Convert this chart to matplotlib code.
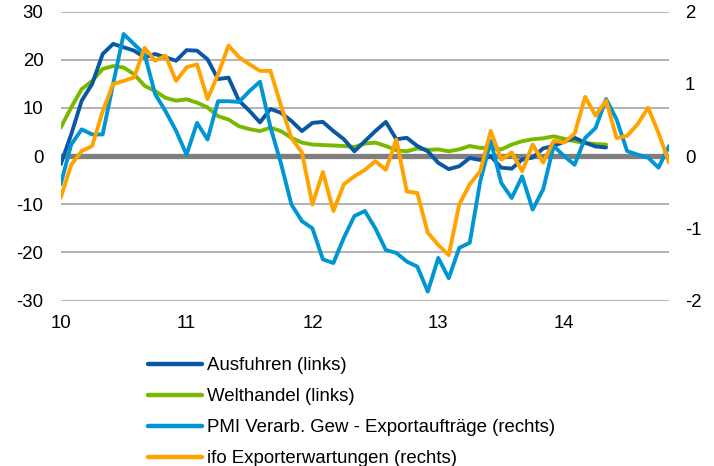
import numpy as np
import matplotlib
matplotlib.use("Agg")
import matplotlib.pyplot as plt

plt.rcParams["font.family"] = ["Liberation Sans", "DejaVu Sans"]
plt.rcParams["axes.unicode_minus"] = False

# monthly values Jan 2010 .. Nov 2014
ausfuhren = [-1.7, 4.5, 11.5, 15.0, 21.2, 23.3, 22.6, 21.9, 20.5, 21.2,
             20.5, 19.8, 22.0, 21.9, 20.1, 16.0, 16.3, 11.5, 9.4, 7.0,
             9.8, 9.0, 7.3, 5.2, 6.9, 7.1, 5.2, 3.5, 1.0, 3.1,
             5.2, 7.1, 3.5, 3.8, 2.1, 1.0, -1.4, -2.7, -2.1, -0.4,
             -0.8, 0.0, -2.4, -2.6, -0.7, -0.3, 1.6, 2.1, 3.0, 3.8,
             2.8, 2.0, 1.8]
welthandel = [5.9, 10.1, 13.9, 15.6, 18.1, 18.7, 18.4, 17.0, 14.6, 13.5,
              12.1, 11.5, 11.8, 11.1, 10.1, 8.3, 7.6, 6.2, 5.6, 5.2,
              5.9, 5.2, 3.8, 2.8, 2.4, 2.3, 2.2, 2.1, 1.9, 2.6,
              2.8, 2.1, 1.2, 1.0, 1.6, 1.3, 1.4, 1.0, 1.4, 2.1,
              1.7, 1.7, 1.4, 2.4, 3.1, 3.5, 3.7, 4.1, 3.6, 3.1,
              2.7, 2.5, 2.4]
pmi = [-0.39, 0.16, 0.37, 0.30, 0.30, 1.0, 1.69, 1.55, 1.41, 0.86,
       0.62, 0.35, 0.02, 0.46, 0.23, 0.76, 0.76, 0.75, 0.90, 1.03,
       0.40, -0.10, -0.67, -0.90, -1.0, -1.43, -1.48, -1.13, -0.83, -0.76,
       -1.0, -1.30, -1.34, -1.46, -1.53, -1.875, -1.41, -1.69, -1.27, -1.20,
       -0.35, 0.21, -0.37, -0.58, -0.28, -0.74, -0.46, 0.14, 0.0, -0.12,
       0.25, 0.39, 0.79, 0.51, 0.07, 0.02, -0.02, -0.16, 0.14]
ifo = [-0.58, -0.12, 0.07, 0.14, 0.62, 1.0, 1.04, 1.09, 1.50, 1.32,
       1.39, 1.04, 1.23, 1.27, 0.79, 1.13, 1.53, 1.37, 1.27, 1.18,
       1.18, 0.70, 0.25, 0.05, -0.67, -0.22, -0.76, -0.39, -0.28, -0.19,
       -0.07, -0.19, 0.23, -0.49, -0.51, -1.06, -1.23, -1.37, -0.67, -0.39,
       -0.21, 0.35, -0.05, 0.05, -0.21, 0.16, -0.09, 0.21, 0.19, 0.31,
       0.82, 0.56, 0.77, 0.25, 0.28, 0.44, 0.67, 0.32, -0.09]

labels = ["Ausfuhren (links)", "Welthandel (links)",
          "PMI Verarb. Gew - Exportaufträge (rechts)",
          "ifo Exporterwartungen (rechts)"]
colors = ["#0A57A4", "#7AB800", "#0095D3", "#FFA300"]
year_ticks = [10, 11, 12, 13, 14]

def xs(vals):
    return 10 + np.arange(len(vals)) / 12

fig = plt.figure(figsize=(7.14, 4.66), dpi=100)
ax = fig.add_axes([0.085, 0.355, 0.852, 0.62])
ax2 = ax.twinx()

lw = 2.8
ax.axhline(0, color="#7F7F7F", lw=3.8, zorder=1)
l1, = ax.plot(xs(ausfuhren), ausfuhren, color=colors[0], lw=lw, zorder=3,
              solid_capstyle="round")
l2, = ax.plot(xs(welthandel), welthandel, color=colors[1], lw=lw, zorder=2,
              solid_capstyle="round")
l3, = ax2.plot(xs(pmi), pmi, color=colors[2], lw=lw, solid_capstyle="round")
l4, = ax2.plot(xs(ifo), ifo, color=colors[3], lw=lw, solid_capstyle="round")

ax.set_xlim(10, 10 + 58 / 12)
ax.set_ylim(-30, 30)
ax2.set_ylim(-2, 2)
ax.set_yticks(range(-30, 31, 10))
ax2.set_yticks([-2, -1, 0, 1, 2])
ax.set_xticks(year_ticks)
ax.set_xticklabels([str(y) for y in year_ticks])

ax.grid(axis="y", color="#A6A6A6", lw=1.2)
ax.set_axisbelow(True)
for a in (ax, ax2):
    for s in a.spines.values():
        s.set_visible(False)
    a.tick_params(length=0, labelsize=13.4, colors="#000000")
ax.tick_params(axis="y", pad=12.3)
ax.tick_params(axis="x", pad=10.5)
ax2.tick_params(axis="y", pad=11.5)

fig.legend([l1, l2, l3, l4], labels, loc="upper left",
           bbox_to_anchor=(0.207, 0.233), frameon=False, fontsize=13.4,
           handlelength=2.9, handletextpad=0.27, labelspacing=0.75,
           borderpad=0, borderaxespad=0)
for h in fig.legends[0].legend_handles:
    h.set_linewidth(3.2)

fig.savefig("out.png", dpi=100)
